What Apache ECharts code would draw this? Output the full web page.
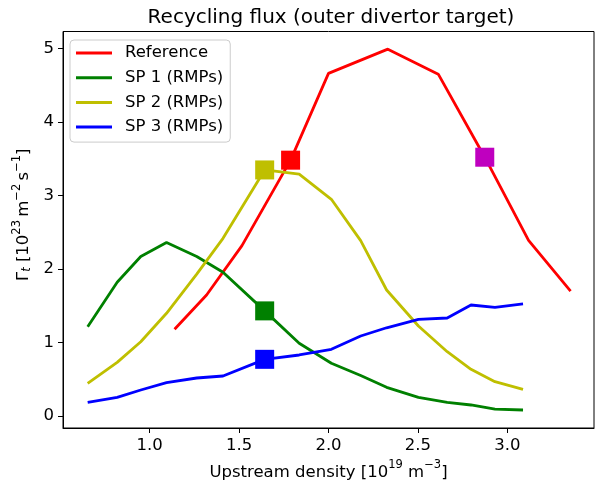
<!DOCTYPE html>
<html>
<head>
<meta charset="utf-8">
<script src="https://cdn.jsdelivr.net/npm/echarts@6/dist/echarts.min.js"></script>
<style>
  html, body { margin: 0; padding: 0; background: #fff; }
  #chart { width: 595px; height: 489px; }
</style>
</head>
<body>
<div id="chart"></div>
<script>
// Upstream density [1e19 m^-3] and recycling flux [1e23 m^-2 s^-1]
const refX = [1.139, 1.318, 1.516, 1.788, 2.000, 2.332, 2.614, 2.874, 3.119, 3.354];
const refY = [1.18, 1.646, 2.317, 3.48, 4.66, 4.99, 4.65, 3.52, 2.39, 1.70];

const spX  = [0.653, 0.818, 0.950, 1.094, 1.263, 1.410, 1.643, 1.836, 2.016, 2.180, 2.325, 2.503, 2.664, 2.797, 2.931, 3.088];
const sp1Y = [1.215, 1.82, 2.17, 2.36, 2.17, 1.955, 1.43, 0.99, 0.717, 0.55, 0.39, 0.254, 0.186, 0.15, 0.095, 0.082];
const sp2Y = [0.445, 0.73, 1.01, 1.397, 1.93, 2.417, 3.347, 3.29, 2.948, 2.385, 1.714, 1.224, 0.875, 0.635, 0.467, 0.363];
const sp3Y = [0.186, 0.254, 0.354, 0.453, 0.517, 0.544, 0.771, 0.83, 0.907, 1.088, 1.20, 1.315, 1.333, 1.51, 1.479, 1.524];

// highlighted operating points (index into the arrays above)
const spMarkIdx = 6;
const refMarkIdx = [3, 7];

const seriesNames = ['Reference', 'SP 1 (RMPs)', 'SP 2 (RMPs)', 'SP 3 (RMPs)'];
const seriesColors = ['#ff0000', '#008000', '#bfbf00', '#0000ff'];
const refMarkColors = ['#ff0000', '#bf00bf'];

const xTicks = [1.0, 1.5, 2.0, 2.5, 3.0];
const yTicks = [0, 1, 2, 3, 4, 5];

const FONT = 'DejaVu Sans';
const FS = 16.5;
const zip = (xs, ys) => xs.map((x, i) => [x, ys[i]]);

const lineData = [zip(refX, refY), zip(spX, sp1Y), zip(spX, sp2Y), zip(spX, sp3Y)];

const series = lineData.map((d, i) => ({
  name: seriesNames[i],
  type: 'line',
  data: d,
  showSymbol: false,
  symbol: 'none',
  lineStyle: { color: seriesColors[i], width: 2.8 },
  itemStyle: { color: seriesColors[i] },
  z: 2,
  silent: true
}));

// square markers on the SP curves
[sp1Y, sp2Y, sp3Y].forEach((ys, i) => {
  series.push({
    name: 'mark' + (i + 1),
    type: 'scatter',
    data: [[spX[spMarkIdx], ys[spMarkIdx]]],
    symbol: 'rect',
    symbolSize: 19,
    itemStyle: { color: seriesColors[i + 1], opacity: 1 },
    z: 5,
    silent: true
  });
});
// square markers on the reference curve
refMarkIdx.forEach((k, i) => {
  series.push({
    name: 'refmark' + i,
    type: 'scatter',
    data: [[refX[k], refY[k]]],
    symbol: 'rect',
    symbolSize: 19,
    itemStyle: { color: refMarkColors[i], opacity: 1 },
    z: 5,
    silent: true
  });
});

const chart = echarts.init(document.getElementById('chart'), null, { renderer: 'canvas' });

const mainStyle = { fontFamily: FONT, fontSize: FS, color: '#000', lineHeight: 22, verticalAlign: 'bottom' };
const supStyle = { fontFamily: FONT, fontSize: 11.5, color: '#000', lineHeight: 11, verticalAlign: 'top' };
const subStyle = { fontFamily: FONT, fontSize: 11.5, fontStyle: 'italic', color: '#000', lineHeight: 11, verticalAlign: 'bottom' };

chart.setOption({
  animation: false,
  backgroundColor: '#fff',
  title: {
    text: 'Recycling flux (outer divertor target)',
    left: 331,
    textAlign: 'center',
    top: 8,
    padding: 0,
    textStyle: { fontFamily: FONT, fontSize: 20, fontWeight: 'normal', color: '#000' }
  },
  legend: {
    data: seriesNames,
    orient: 'vertical',
    left: 70,
    top: 40,
    padding: [4, 7, 6, 6],
    icon: 'rect',
    itemWidth: 36,
    itemHeight: 3,
    itemGap: 6.7,
    backgroundColor: 'rgba(255,255,255,0.8)',
    borderColor: '#cccccc',
    borderWidth: 1,
    borderRadius: 4,
    textStyle: { fontFamily: FONT, fontSize: FS, color: '#000', lineHeight: 18, padding: [0, 0, 0, 8] },
    selectedMode: false
  },
  grid: {
    left: 63, right: 1, top: 31.5, bottom: 61,
    show: true, borderColor: '#000', borderWidth: 1, backgroundColor: 'transparent'
  },
  xAxis: {
    type: 'value',
    min: 0.515,
    max: 3.485,
    name: '{a|Upstream density [10}{sup|19}{a| m}{sup|−3}{a|]}',
    nameLocation: 'middle',
    nameGap: 30,
    nameTextStyle: { rich: { a: mainStyle, sup: supStyle } },
    axisLine: { show: true, onZero: false, lineStyle: { color: '#000', width: 1 } },
    axisTick: { show: true, customValues: xTicks, length: 5, inside: false, lineStyle: { color: '#000', width: 1 } },
    axisLabel: {
      customValues: xTicks,
      formatter: v => v.toFixed(1),
      margin: 9,
      fontFamily: FONT, fontSize: FS, color: '#000'
    },
    splitLine: { show: false }
  },
  yAxis: {
    type: 'value',
    min: -0.163,
    max: 5.23,
    name: '{a|Γ}{sub|t}{a| [10}{sup|23}{a|\u2009m}{sup|−2}{a|\u2009s}{sup|−1}{a|]}',
    nameLocation: 'middle',
    nameRotate: 90,
    nameGap: 30,
    nameTextStyle: { rich: { a: mainStyle, sub: subStyle, sup: supStyle }, padding: [0, 0, 0, 30] },
    axisLine: { show: true, onZero: false, lineStyle: { color: '#000', width: 1 } },
    axisTick: { show: true, customValues: yTicks, length: 5, inside: false, lineStyle: { color: '#000', width: 1 } },
    axisLabel: {
      customValues: yTicks,
      formatter: v => String(Math.round(v)),
      margin: 9,
      fontFamily: FONT, fontSize: FS, color: '#000'
    },
    splitLine: { show: false }
  },
  series: series
});
</script>
</body>
</html>
